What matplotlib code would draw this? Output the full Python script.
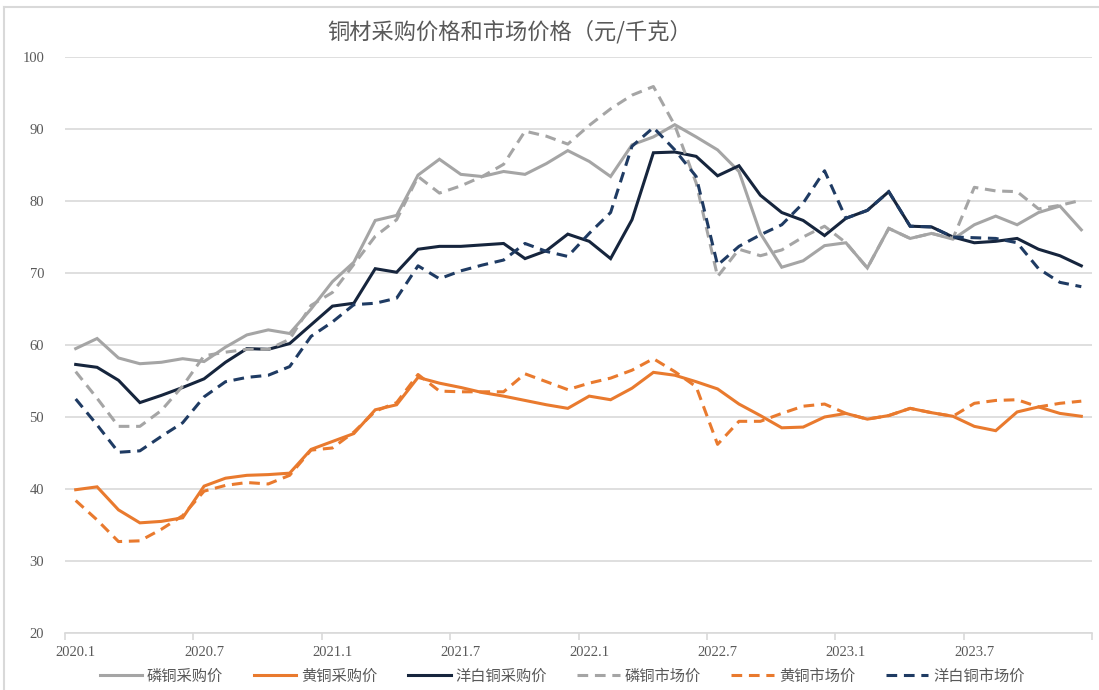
import matplotlib
matplotlib.use("Agg")
import matplotlib.pyplot as plt
from matplotlib.lines import Line2D

plt.rcParams['font.family'] = ['Noto Sans CJK SC', 'DejaVu Sans']

# monthly data, 2020.1 - 2023.12
months = [f"{y}.{m}" for y in range(2020, 2024) for m in range(1, 13)]

phos_buy = [59.5, 60.9, 58.2, 57.4, 57.6, 58.1, 57.7, 59.7, 61.4, 62.1, 61.6, 65.0,
            68.8, 71.5, 77.3, 78.0, 83.6, 85.8, 83.7, 83.4, 84.1, 83.7, 85.2, 87.0,
            85.5, 83.4, 87.8, 88.9, 90.6, 88.9, 87.1, 84.1, 75.5, 70.8, 71.7, 73.8,
            74.2, 70.7, 76.2, 74.8, 75.5, 74.7, 76.7, 77.9, 76.7, 78.4, 79.3, 76.0]
brass_buy = [39.9, 40.3, 37.1, 35.3, 35.5, 36.0, 40.4, 41.5, 41.9, 42.0, 42.2, 45.5,
             46.6, 47.7, 51.0, 51.7, 55.5, 54.7, 54.1, 53.4, 52.9, 52.3, 51.7, 51.2,
             52.9, 52.4, 54.0, 56.2, 55.8, 54.9, 53.9, 51.8, 50.2, 48.5, 48.6, 50.0,
             50.5, 49.7, 50.2, 51.2, 50.6, 50.1, 48.7, 48.1, 50.7, 51.4, 50.5, 50.1]
nickel_buy = [57.3, 56.9, 55.1, 52.0, 53.0, 54.1, 55.3, 57.6, 59.5, 59.4, 60.2, 62.8,
              65.4, 65.8, 70.6, 70.1, 73.3, 73.7, 73.7, 73.9, 74.1, 72.0, 73.1, 75.4,
              74.4, 72.0, 77.4, 86.7, 86.8, 86.2, 83.5, 84.9, 80.8, 78.4, 77.3, 75.2,
              77.6, 78.7, 81.3, 76.5, 76.4, 75.0, 74.2, 74.4, 74.8, 73.3, 72.4, 71.0]
phos_mkt = [56.3, 52.6, 48.7, 48.7, 50.9, 54.3, 58.5, 59.0, 59.4, 59.4, 60.8, 65.5,
            67.3, 71.2, 75.1, 77.4, 83.4, 81.1, 82.1, 83.4, 85.1, 89.7, 89.0, 87.9,
            90.5, 92.8, 94.7, 95.9, 90.5, 82.5, 69.5, 73.3, 72.4, 73.2, 75.0, 76.5,
            74.2, 70.7, 76.2, 74.8, 75.5, 74.8, 81.9, 81.4, 81.3, 78.9, 79.4, 80.1]
brass_mkt = [38.4, 35.7, 32.7, 32.8, 34.4, 36.3, 39.7, 40.5, 40.9, 40.7, 41.9, 45.4,
             45.7, 47.9, 50.8, 52.0, 55.9, 53.6, 53.5, 53.5, 53.5, 56.0, 54.9, 53.8,
             54.7, 55.4, 56.5, 58.1, 56.3, 54.2, 46.2, 49.4, 49.4, 50.5, 51.5, 51.8,
             50.5, 49.7, 50.2, 51.2, 50.6, 50.1, 51.9, 52.3, 52.4, 51.4, 51.9, 52.2]
nickel_mkt = [52.5, 48.9, 45.1, 45.3, 47.3, 49.2, 52.8, 54.9, 55.5, 55.8, 57.0, 61.2,
              63.2, 65.6, 65.8, 66.5, 71.0, 69.2, 70.3, 71.1, 71.8, 74.1, 73.0, 72.3,
              75.5, 78.4, 87.6, 90.2, 87.1, 83.4, 71.1, 73.7, 75.3, 76.7, 79.7, 84.2,
              77.6, 78.7, 81.3, 76.5, 76.4, 75.0, 74.9, 74.8, 74.2, 70.6, 68.7, 68.1]

series = [
    ("磷铜采购价", phos_buy, "#a5a5a5", "-"),
    ("黄铜采购价", brass_buy, "#e97a2e", "-"),
    ("洋白铜采购价", nickel_buy, "#16253d", "-"),
    ("磷铜市场价", phos_mkt, "#a5a5a5", "--"),
    ("黄铜市场价", brass_mkt, "#e97a2e", "--"),
    ("洋白铜市场价", nickel_mkt, "#1f3b63", "--"),
]

GRID = "#d9d9d9"
TXT = "#595959"
SERIF = ['Liberation Serif', 'DejaVu Serif']


def main():
    fig = plt.figure(figsize=(10.99, 6.90), dpi=100)
    ax = fig.add_axes([65 / 1099, 1 - 633 / 690, (1092 - 65) / 1099, (633 - 57) / 690])

    x = list(range(len(months)))
    for label, vals, color, ls in series:
        line, = ax.plot(x, vals, color=color, lw=2.2, ls=ls, label=label,
                        solid_joinstyle="miter", dash_capstyle="butt")
        if ls == "--":
            line.set_dashes((3.5, 2.2))

    ax.set_xlim(-0.5, len(months) - 0.5)
    ax.set_ylim(20, 100)
    ax.set_yticks(range(20, 101, 10))
    ax.yaxis.grid(True, color=GRID, lw=1.2)
    ax.set_axisbelow(True)

    ax.set_xticks(x[::6])
    ax.set_xticklabels(months[::6])
    ax.set_xticks([i - 0.5 for i in range(0, len(months) + 1, 6)], minor=True)
    ax.tick_params(axis="x", which="major", length=0, pad=9, labelcolor=TXT, labelsize=10.5)
    ax.tick_params(axis="x", which="minor", length=5, color=GRID, width=1.2)
    ax.tick_params(axis="y", length=0, pad=15, labelcolor=TXT, labelsize=10.5)
    for lab in ax.get_xticklabels() + ax.get_yticklabels():
        lab.set_family(SERIF)

    for s in ("top", "right", "left"):
        ax.spines[s].set_visible(False)
    ax.spines["bottom"].set_color(GRID)
    ax.spines["bottom"].set_linewidth(1.2)

    fig.text(510 / 1099, 1 - 32 / 690, "铜材采购价格和市场价格（元/千克）",
             ha="center", va="center", fontsize=16, color=TXT)

    fig.legend(loc="center", bbox_to_anchor=(562 / 1099, 14 / 690), ncol=6,
               frameon=False, fontsize=11, handlelength=2.8, handletextpad=0.3,
               columnspacing=2.0, labelcolor=TXT)

    # light border around the chart area
    fig.add_artist(Line2D([4 / 1099, 4 / 1099], [0, 1 - 7 / 690], color=GRID, lw=1.5))
    fig.add_artist(Line2D([4 / 1099, 1], [1 - 7 / 690, 1 - 7 / 690], color=GRID, lw=1.5))

    fig.savefig("out.png", dpi=100, facecolor="white")


if __name__ == "__main__":
    main()
